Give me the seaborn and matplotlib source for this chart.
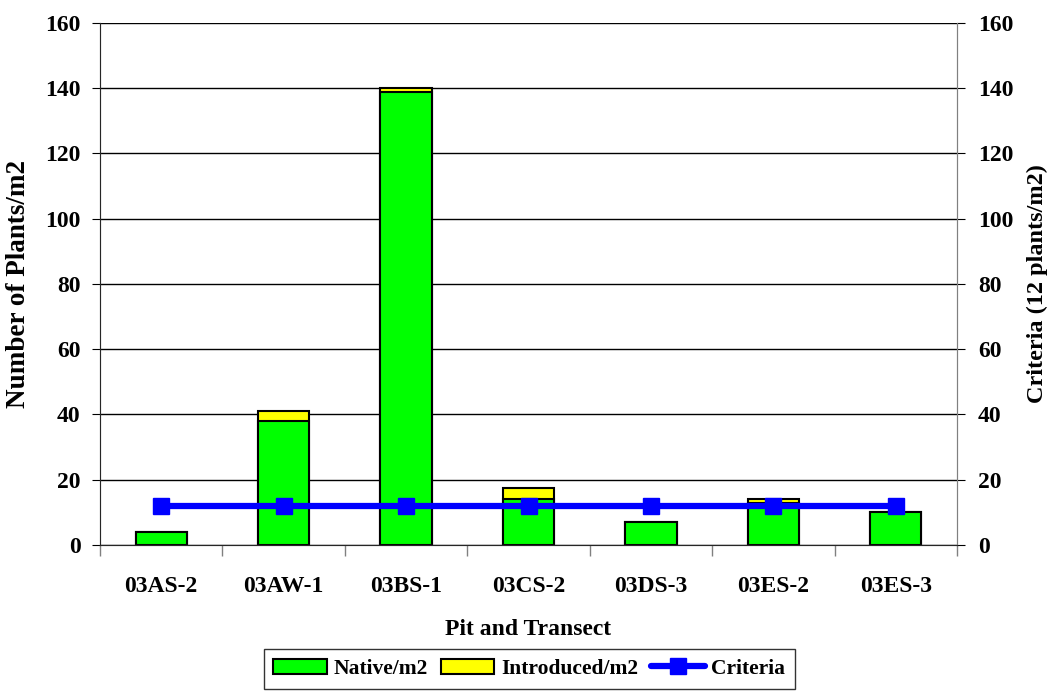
import matplotlib
matplotlib.use("Agg")
import matplotlib.pyplot as plt
import seaborn as sns
import pandas as pd
import numpy as np
from matplotlib.patches import Patch
from matplotlib.lines import Line2D

# Datos
sitios = ['03AS-2', '03AW-1', '03BS-1', '03CS-2', '03DS-3', '03ES-2', '03ES-3']
nativas = [4, 38, 139, 14, 7, 13, 10]
introducidas = [0, 3, 1, 3.6, 0, 1.2, 0]
criterio = [12, 12, 12, 12, 12, 12, 12]

df = pd.DataFrame({'sitio': sitios, 'nativas': nativas, 'introducidas': introducidas})
df['total'] = df['nativas'] + df['introducidas']

sns.set_style("white")
plt.rcParams['font.family'] = ['Liberation Serif', 'DejaVu Serif']
plt.rcParams['font.weight'] = 'bold'
plt.rcParams['text.color'] = 'black'
plt.rcParams['axes.labelcolor'] = 'black'
plt.rcParams['xtick.color'] = 'black'
plt.rcParams['ytick.color'] = 'black'

fs = 17
fig = plt.figure(figsize=(10.52, 6.91), dpi=100)
ax = fig.add_axes([100 / 1052, 1 - 545 / 691, 857 / 1052, 522 / 691])

# barra total (amarilla) y encima la nativa (verde) -> efecto apilado
sns.barplot(data=df, x='sitio', y='total', color='#ffff00', edgecolor='black',
            linewidth=1.5, width=0.42, saturation=1, ax=ax)
sns.barplot(data=df, x='sitio', y='nativas', color='#00ff00', edgecolor='black',
            linewidth=1.5, width=0.42, saturation=1, ax=ax)

ax.set_ylim(0, 160)
ax.set_xlim(-0.5, len(sitios) - 0.5)
ax.set_yticks(np.arange(0, 161, 20))
ax.yaxis.grid(True, color='black', linewidth=1)
ax.set_axisbelow(True)
ax.set_xlabel('Pit and Transect', fontsize=fs, fontweight='bold', labelpad=16)
ax.set_ylabel('Number of Plants/m2', fontsize=19.5, fontweight='bold', labelpad=10)
ax.tick_params(axis='y', direction='out', length=6, labelsize=fs, left=True, pad=8)
ax.tick_params(axis='x', which='major', length=0, labelsize=fs, pad=22)
for lab in ax.get_xticklabels() + ax.get_yticklabels():
    lab.set_fontweight('bold')

# marcas del eje x entre categorías
ax.set_xticks(np.arange(-0.5, len(sitios), 1), minor=True)
ax.tick_params(axis='x', which='minor', bottom=True, length=8, width=1,
               direction='out', color='gray')

ax.spines['top'].set_visible(False)
for s in ['left', 'bottom', 'right']:
    ax.spines[s].set_color('gray')

ax2 = ax.twinx()
ax2.plot(range(len(sitios)), criterio, color='#0000ff', linewidth=4.5,
         marker='s', markersize=12)
ax2.set_ylim(0, 160)
ax2.set_yticks(np.arange(0, 161, 20))
ax2.set_ylabel('Criteria (12 plants/m2)', fontsize=17.5, fontweight='bold', labelpad=10)
ax2.tick_params(axis='y', direction='out', length=6, labelsize=fs, right=True, pad=9)
for lab in ax2.get_yticklabels():
    lab.set_fontweight('bold')
ax2.spines['top'].set_visible(False)
ax2.spines['right'].set_color('gray')

handles = [Patch(facecolor='#00ff00', edgecolor='black', linewidth=1.5, label='Native/m2'),
           Patch(facecolor='#ffff00', edgecolor='black', linewidth=1.5, label='Introduced/m2'),
           Line2D([0], [0], color='#0000ff', linewidth=4.5, marker='s', markersize=12,
                  label='Criteria')]
fig.legend(handles=handles, loc='lower center', bbox_to_anchor=(0.503, -0.012), ncol=3,
           frameon=True, fancybox=False, edgecolor='black',
           handlelength=2.5, handletextpad=0.3, columnspacing=0.6, borderpad=0.45,
           prop={'weight': 'bold', 'size': 15.5})

fig.savefig('out.png', dpi=100)
